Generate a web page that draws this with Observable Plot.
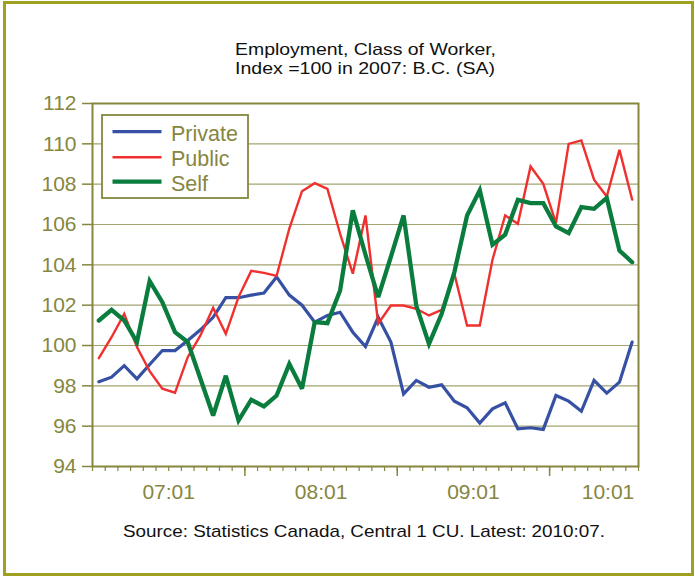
<!DOCTYPE html>
<html><head><meta charset="utf-8">
<script src="https://cdn.jsdelivr.net/npm/d3@7"></script>
<script src="https://cdn.jsdelivr.net/npm/@observablehq/plot@0.6"></script>
<style>
body{margin:0;background:#fff;}
#wrap{position:relative;width:695px;height:576px;overflow:hidden;font-family:"Liberation Sans",Arial,sans-serif;}
#border{position:absolute;left:3px;top:1px;width:685px;height:569px;border:3px solid #a0a020;}
#wrap svg{position:absolute;left:0;top:0;}
</style></head><body><div id="wrap"><div id="border"></div></div>
<script>
// Monthly index values (2007 = 100), 43 months
const privateSeries = [98.2, 98.43, 99.0, 98.35, 99.06, 99.75, 99.75, 100.25, 100.78, 101.4,
  102.37, 102.37, 102.5, 102.6, 103.4, 102.5, 102.0, 101.16, 101.49, 101.65,
  100.66, 99.95, 101.4, 100.17, 97.6, 98.27, 97.93, 98.05, 97.24, 96.91,
  96.15, 96.86, 97.16, 95.87, 95.92, 95.84, 97.52, 97.24, 96.74, 98.27,
  97.64, 98.18, 100.17];
const publicSeries = [99.37, 100.41, 101.57, 99.92, 98.73, 97.86, 97.66, 99.42, 100.5, 101.87,
  100.58, 102.4, 103.7, 103.6, 103.45, 105.8, 107.65, 108.05, 107.77, 105.54,
  103.56, 106.45, 101.08, 101.98, 101.98, 101.82, 101.49, 101.77, 103.56, 100.99,
  100.99, 104.25, 106.45, 106.04, 108.88, 108.02, 106.07, 110.0, 110.17, 108.22,
  107.39, 109.7, 107.24];
const selfSeries = [101.24, 101.77, 101.24, 100.17, 103.2, 102.15, 100.66, 100.17, 98.35, 96.53,
  98.5, 96.28, 97.31, 96.98, 97.52, 99.09, 97.86, 101.16, 101.11, 102.73,
  106.7, 104.5, 102.4, 104.4, 106.45, 101.98, 100.08, 101.57, 103.64, 106.45,
  107.7, 105.0, 105.5, 107.22, 107.06, 107.06, 105.9, 105.57, 106.86, 106.78,
  107.32, 104.71, 104.13];
const seriesNames = ["Private", "Public", "Self"];
const xTickLabels = ["07:01", "08:01", "09:01", "10:01"];
const xTickAt = [5.5, 17.5, 29.5, 40.1];
const yTicks = [94, 96, 98, 100, 102, 104, 106, 108, 110, 112];

const olive = "#86863f";
const colors = ["#3651a3", "#f0302e", "#0a7d3e"];
const widths = [3.2, 2.4, 4.3];
const allSeries = [privateSeries, publicSeries, selfSeries];
const n = privateSeries.length;

const lineMarks = allSeries.map((s, k) =>
  Plot.line(s, {x: (d, i) => i, y: d => d, stroke: colors[k], strokeWidth: widths[k], strokeLinejoin: "miter", strokeMiterlimit: 3}));

const svg = Plot.plot({
  width: 695, height: 576,
  marginLeft: 92, marginRight: 57, marginTop: 103, marginBottom: 110,
  style: {fontFamily: "'Liberation Sans', Arial, sans-serif", fontSize: "21px", color: olive, background: "transparent", overflow: "visible"},
  x: {domain: [-0.5, n - 0.5]},
  y: {domain: [94, 112]},
  marks: [
    Plot.gridY(yTicks.slice(1, -1), {stroke: "#a3a370", strokeOpacity: 1, strokeWidth: 1.2}),
    ...lineMarks,
    Plot.frame({stroke: olive, strokeWidth: 2}),
    Plot.axisY(yTicks, {tickSize: 10, tickPadding: 6, strokeWidth: 1.5, label: null, fontSize: 21}),
    Plot.axisX(d3.range(-0.5, n, 1), {tickSize: 5, strokeWidth: 1.2, tickFormat: () => "", label: null}),
    Plot.axisX([11.5, 23.5, 35.5], {tickSize: 10, strokeWidth: 1.5, tickFormat: () => "", label: null}),
    Plot.axisX(xTickAt, {tickSize: 0, tickPadding: 18, tickFormat: d => xTickLabels[xTickAt.indexOf(d)], label: null, fontSize: 21})
  ]
});
document.getElementById("wrap").appendChild(svg);

const s = d3.select(svg);
// Titles
const tg = s.append("g").attr("fill", "#111").attr("text-anchor", "start")
  .attr("font-family", "'Liberation Sans', Arial, sans-serif");
tg.append("text").attr("x", 235).attr("y", 55).attr("font-size", 16.5)
  .attr("textLength", 261).attr("lengthAdjust", "spacingAndGlyphs").text("Employment, Class of Worker,");
tg.append("text").attr("x", 235).attr("y", 74).attr("font-size", 16.5)
  .attr("textLength", 260).attr("lengthAdjust", "spacingAndGlyphs").text("Index =100 in 2007: B.C. (SA)");
tg.append("text").attr("x", 123).attr("y", 537).attr("font-size", 17)
  .attr("textLength", 482).attr("lengthAdjust", "spacingAndGlyphs").text("Source: Statistics Canada, Central 1 CU. Latest: 2010:07.");

// Legend
const lg = s.append("g").attr("text-anchor", "start");
lg.append("rect").attr("x", 102).attr("y", 115).attr("width", 146).attr("height", 83)
  .attr("fill", "#fff").attr("stroke", olive).attr("stroke-width", 1.8);
seriesNames.forEach((name, k) => {
  const y = [131.7, 157.3, 181.7][k];
  lg.append("line").attr("x1", 112.5).attr("x2", 161.5).attr("y1", y).attr("y2", y)
    .attr("stroke", colors[k]).attr("stroke-width", widths[k]);
  lg.append("text").attr("x", 171).attr("y", y + 9).attr("font-size", 21.5)
    .attr("fill", olive).attr("font-family", "'Liberation Sans', Arial, sans-serif").text(name);
});
</script></body></html>
